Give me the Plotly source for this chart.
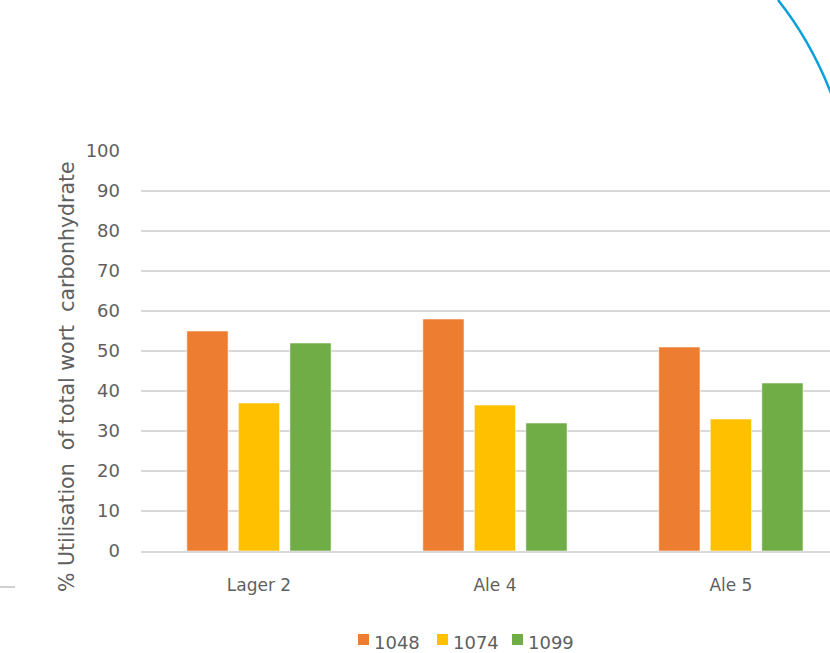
import plotly.graph_objects as go

# Data
categories = ["Lager 2", "Ale 4", "Ale 5"]
series_names = ["1048", "1074", "1099"]
values_1048 = [55, 58, 51]
values_1074 = [37, 36.5, 33]
values_1099 = [52, 32, 42]
series_values = [values_1048, values_1074, values_1099]
colors = ["#ED7D31", "#FFC000", "#70AD47"]
y_ticks = list(range(0, 101, 10))
y_title = "% Utilisation\u00a0 of total wort\u00a0 carbonhydrate"

FONT = "'DejaVu Sans', Verdana, sans-serif"
TEXT = "#5f5f5f"
GRID = "#D9D9D9"

W_FIG, H_FIG = 830, 653
L, T, W, H = 141, 150, 689, 401  # plot area in pixels


def px(x):
    return (x - L) / W


def py(y):
    return (T + H - y) / H


fig = go.Figure()
for name, vals, col in zip(series_names, series_values, colors):
    fig.add_trace(go.Bar(
        x=categories, y=vals, name=name,
        marker=dict(color=col, line=dict(color="rgba(255,255,255,0.55)", width=1)),
        showlegend=False,
    ))

shapes = []
annotations = []

# Legend: small squares with labels underneath the chart
legend_sq_x = [358, 437, 512]
for name, col, x0 in zip(series_names, colors, legend_sq_x):
    shapes.append(dict(type="rect", xref="paper", yref="paper",
                       x0=px(x0), x1=px(x0 + 11), y0=py(645), y1=py(634),
                       fillcolor=col, line=dict(width=0)))
    annotations.append(dict(text=name, xref="paper", yref="paper",
                            x=px(x0 + 14), y=py(642), xanchor="left", yanchor="middle",
                            showarrow=False, font=dict(family=FONT, size=18, color=TEXT)))

# Y axis title
annotations.append(dict(text=y_title, xref="paper", yref="paper",
                        x=px(67), y=py(377), xanchor="center", yanchor="middle",
                        textangle=-90, showarrow=False,
                        font=dict(family=FONT, size=20.5, color=TEXT)))

# Decorative blue arc in the top-right corner
p0 = (px(778), py(0))
pc = (px(810), py(40))
p1 = (px(831), py(93))
shapes.append(dict(type="path", xref="paper", yref="paper",
                   path=f"M {p0[0]},{p0[1]} Q {pc[0]},{pc[1]} {p1[0]},{p1[1]}",
                   line=dict(color="#0AA0DA", width=2.5)))

# Small grey stroke at the lower left
shapes.append(dict(type="line", xref="paper", yref="paper",
                   x0=px(0), x1=px(15), y0=py(587), y1=py(587),
                   line=dict(color="#A0A0A0", width=1)))

fig.update_layout(
    width=W_FIG, height=H_FIG,
    margin=dict(l=L, r=W_FIG - L - W, t=T, b=H_FIG - T - H, pad=0),
    paper_bgcolor="white", plot_bgcolor="white",
    barmode="group", bargap=0.345, bargroupgap=0.2,
    font=dict(family=FONT, size=18, color=TEXT),
    shapes=shapes, annotations=annotations,
    showlegend=False,
)
fig.update_xaxes(
    range=[-0.5, 2.42], showgrid=False, showline=True, linecolor=GRID, linewidth=1.5,
    ticks="", tickfont=dict(family=FONT, size=17, color=TEXT), ticklabelstandoff=18,
)
fig.update_yaxes(
    range=[0, 100.25], tickvals=y_ticks, showgrid=True, gridcolor=GRID, gridwidth=1.5,
    zeroline=False, showline=False, ticks="",
    tickfont=dict(family=FONT, size=18, color=TEXT), ticklabelstandoff=20,
)

fig.write_html("out.html")
